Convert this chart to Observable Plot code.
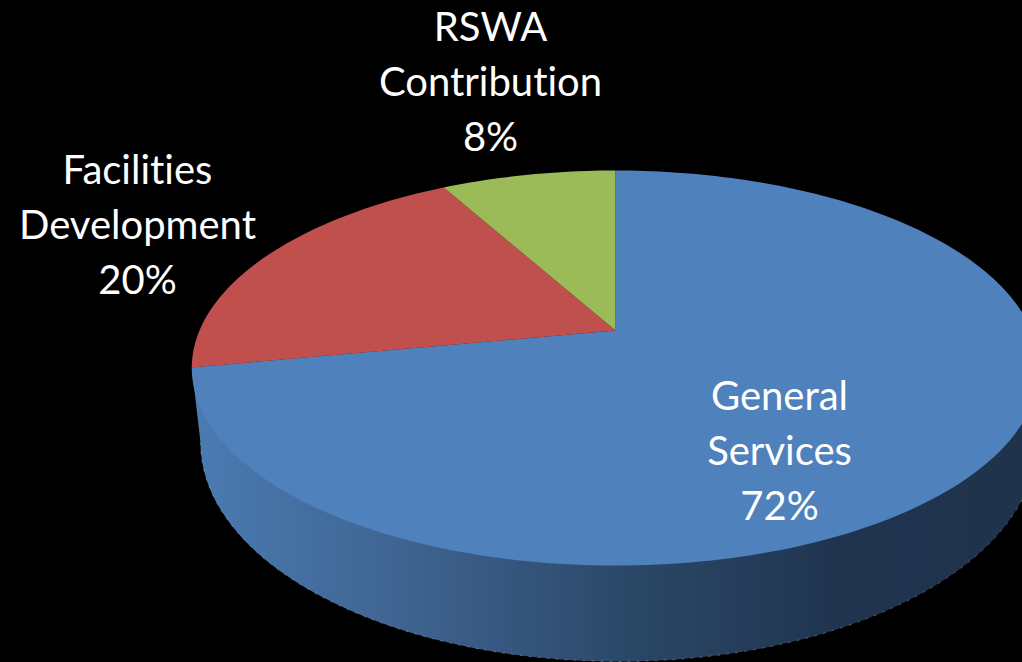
<!DOCTYPE html>
<html>
<head>
<meta charset="utf-8">
<script src="https://cdn.jsdelivr.net/npm/d3@7"></script>
<script src="https://cdn.jsdelivr.net/npm/@observablehq/plot@0.6"></script>
<style>
html,body{margin:0;padding:0;background:#000;overflow:hidden}
svg{display:block}
svg text{font-variant-ligatures:none;font-kerning:normal}
</style>
</head>
<body>
<div id="chart"></div>
<script>
// Data
const categories = ["General Services", "Facilities Development", "RSWA Contribution"];
const shares = [72, 20, 8];
const labelLines = ["General\nServices\n72%", "Facilities\nDevelopment\n20%", "RSWA\nContribution\n8%"];

// Pie drawing parameters (perspective view of a tilted disc)
const apex = {x: 615, y: 330};
const k = 0.19, R = 416, S = 190.4;
const project = (a) => {
  const sx = Math.sin(a), cy = Math.cos(a), w = 1 + k * cy;
  return {x: apex.x + R * sx / w, y: apex.y - S * cy / w};
};
const rim = {x: 618, y: 442, rx: 418, ry: 219};
const labelAnchors = [{x: 779, y: 447}, {x: 137, y: 221}, {x: 490, y: 78}];
const colors = ["#4f81bd", "#c0504d", "#9bbb59"];

// Build slice outlines from the values: clockwise from the top of the disc
const total = d3.sum(shares);
const slices = [];
let start = 0;
shares.forEach((v, i) => {
  const sweep = (v / total) * 2 * Math.PI;
  slices.push({name: categories[i], ...apex});
  const n = Math.ceil(v * 3);
  for (let j = 0; j <= n; j++) slices.push({name: categories[i], ...project(start + (sweep * j) / n)});
  start += sweep;
});

// Side wall: outer lower rim closed to the disc centre
const rimPts = d3.range(0, 121).map((i) => {
  const t = Math.PI - (i / 120) * Math.PI;
  return {x: rim.x + rim.rx * Math.cos(t), y: rim.y + rim.ry * Math.sin(t)};
});
const wall = [{...project((shares[0] / total) * 2 * Math.PI)}, ...rimPts, {x: 1040, y: 400}, apex];

const labels = categories.map((c, i) => ({text: labelLines[i], ...labelAnchors[i]}));

const defs = () => {
  const d = d3.create("svg:defs");
  const g = d.append("linearGradient").attr("id", "wallGrad")
    .attr("gradientUnits", "userSpaceOnUse").attr("x1", 195).attr("x2", 1022).attr("y1", 0).attr("y2", 0);
  [[0, "#4a7bb2"], [0.25, "#3f6491"], [0.52, "#2b4868"], [0.78, "#20344f"], [1, "#1f334d"]]
    .forEach(([o, c]) => g.append("stop").attr("offset", o).attr("stop-color", c));
  return d.node();
};

const chart = Plot.plot({
  width: 1022,
  height: 662,
  margin: 0,
  style: {background: "#000"},
  x: {domain: [0, 1022], range: [0, 1022], axis: null},
  y: {domain: [0, 662], range: [0, 662], axis: null},
  color: {domain: categories, range: colors},
  marks: [
    defs,
    Plot.line(wall, {x: "x", y: "y", fill: "url(#wallGrad)", stroke: "none"}),
    Plot.line(rimPts, {x: "x", y: "y", stroke: "#c8d4e4", strokeOpacity: 0.35, strokeWidth: 1, strokeDasharray: "2,7"}),
    Plot.line(slices, {x: "x", y: "y", z: "name", fill: "name", stroke: "none"}),
    Plot.text(labels, {x: "x", y: "y", text: "text", fill: "#fff", fontFamily: "Lato", fontSize: 40, lineHeight: 1.375, textAnchor: "middle", lineAnchor: "middle"})
  ]
});
document.getElementById("chart").append(chart);
</script>
</body>
</html>
